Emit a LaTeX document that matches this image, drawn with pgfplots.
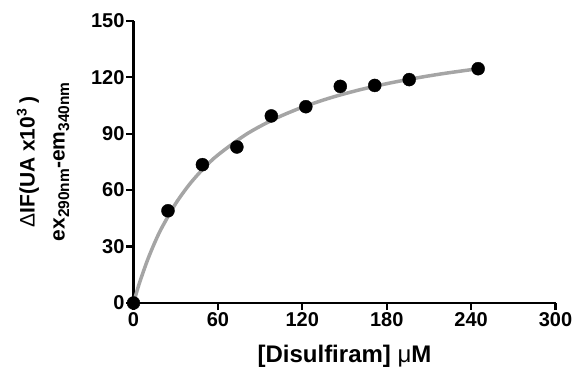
\documentclass[border=0pt]{standalone}
\usepackage{pgfplots}
\pgfplotsset{compat=1.18}
\usepackage{fontspec}
\setmainfont{Liberation Sans}
\newcommand{\sub}[1]{\raisebox{-4.5pt}{\fontsize{15.5}{15.5}\selectfont #1}}
\newcommand{\sups}[1]{\raisebox{8pt}{\fontsize{14}{14}\selectfont #1}}
\begin{document}
\begin{tikzpicture}[x=1pt,y=1pt]
\useasboundingbox (0,0) rectangle (575,369);
\begin{axis}[
  at={(133.5pt,66pt)}, anchor=origin,
  scale only axis, width=422pt, height=282.3pt,
  xmin=0, xmax=300, ymin=0, ymax=150,
  axis x line*=bottom, axis y line*=left,
  axis line style={line width=2.2pt, -},
  xtick={0,60,120,180,240,300},
  ytick={0,30,60,90,120,150},
  tick style={line width=2.2pt, black},
  tick align=outside, major tick length=7pt,
  minor tick num=0,
  /pgf/number format/assume math mode=true,
  ticklabel style={font=\fontsize{20}{20}\selectfont\bfseries},
  yticklabel style={xshift=1.5pt},
  xticklabel style={yshift=1pt},
  xlabel={[Disulfiram] {\mdseries μ}M},
  xlabel style={font=\fontsize{24}{24}\selectfont\bfseries, at={(axis description cs:0.5,-0.2125)}, anchor=base},
  ylabel={{\mdseries Δ}IF(UA x10\sups{3} )\\ex\sub{290nm}-em\sub{340nm}},
  ylabel style={font=\fontsize{21}{30}\selectfont\bfseries, align=center, at={(axis description cs:-0.2145,0.5)}, anchor=center},
  clip=false,
]
\addplot[only marks, mark=*, mark size=6.5pt, black] coordinates {
  (0,0) (24.5,49) (49,73.5) (73.5,82.9) (98,99.4) (122.5,104.3)
  (147,115.1) (171.5,115.6) (196,118.7) (245,124.5)
};
\addplot[color={rgb,255:red,165;green,165;blue,165}, line width=3.5pt, smooth] coordinates {
  (0,0) (2.5,6.45) (5,12.36) (10,22.88) (15,31.93) (20,39.82) (30,52.87)
  (40,63.23) (50,71.66) (60,78.65) (80,89.57) (100,97.71) (120,104.01)
  (140,109.03) (160,113.13) (180,116.53) (200,119.41) (220,121.87) (245,124.49)
};
\end{axis}
\end{tikzpicture}
\end{document}
